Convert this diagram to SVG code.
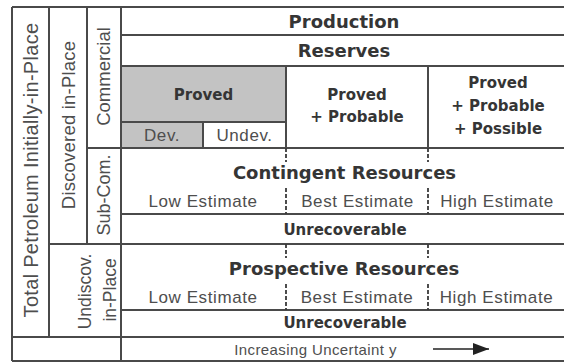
<svg xmlns="http://www.w3.org/2000/svg" width="564" height="363" viewBox="0 0 564 363">
<style>
.ln{stroke:#4a4a4a;stroke-width:2;fill:none}
.dl{stroke:#3a3a3a;stroke-width:1.8;fill:none;stroke-dasharray:4 2}
.g{fill:#c3c3c3}
.b{font-family:"DejaVu Sans",Verdana,sans-serif;font-weight:bold;fill:#353535;text-anchor:middle}
.r{font-family:"Liberation Sans",Arial,sans-serif;fill:#4e4e4e;text-anchor:middle}
.h1{font-size:18px}
.h2{font-size:15px}
.e{font-size:17px;letter-spacing:0.6px}
</style>
<defs>
<marker id="ah" markerWidth="16" markerHeight="12" refX="16" refY="6" orient="auto" markerUnits="userSpaceOnUse">
<path d="M0,0 L16,6 L0,12 Z" fill="#222"/>
</marker>
</defs>
<rect x="0" y="0" width="564" height="363" fill="#ffffff"/>
<g id="proved-fill">
<rect class="g" x="121" y="66" width="165" height="56"/>
<rect class="g" x="121" y="122" width="82" height="26"/>
</g>
<g id="connectors">
<line class="ln" x1="12" y1="7" x2="564" y2="7"/>
<line class="ln" x1="121" y1="35" x2="564" y2="35"/>
<line class="ln" x1="121" y1="66" x2="564" y2="66"/>
<line class="ln" x1="121" y1="122" x2="286" y2="122"/>
<line class="ln" x1="87" y1="148" x2="564" y2="148"/>
<line class="ln" x1="121" y1="214" x2="564" y2="214"/>
<line class="ln" x1="49" y1="244" x2="564" y2="244"/>
<line class="ln" x1="121" y1="310" x2="564" y2="310"/>
<line class="ln" x1="12" y1="337" x2="564" y2="337"/>
<line class="ln" x1="12" y1="361" x2="564" y2="361"/>
<line class="ln" x1="12" y1="7" x2="12" y2="361"/>
<line class="ln" x1="49" y1="7" x2="49" y2="337"/>
<line class="ln" x1="87" y1="7" x2="87" y2="244"/>
<line class="ln" x1="121" y1="7" x2="121" y2="361"/>
<line class="ln" x1="203" y1="122" x2="203" y2="148"/>
<line class="ln" x1="286" y1="66" x2="286" y2="148"/>
<line class="ln" x1="428" y1="66" x2="428" y2="148"/>
<line class="dl" x1="286" y1="148" x2="286" y2="162"/>
<line class="dl" x1="428" y1="148" x2="428" y2="162"/>
<line class="dl" x1="286" y1="188" x2="286" y2="214"/>
<line class="dl" x1="428" y1="188" x2="428" y2="214"/>
<line class="dl" x1="286" y1="244" x2="286" y2="258"/>
<line class="dl" x1="428" y1="244" x2="428" y2="258"/>
<line class="dl" x1="286" y1="284" x2="286" y2="310"/>
<line class="dl" x1="428" y1="284" x2="428" y2="310"/>
<line x1="433" y1="349" x2="489" y2="349" stroke="#222" stroke-width="1.3" marker-end="url(#ah)"/>
</g>
<g id="production"><text class="b h1" x="344" y="28">Production</text></g>
<g id="reserves"><text class="b h1" x="344" y="57">Reserves</text></g>
<g id="proved"><text class="b h2" x="203.5" y="100">Proved</text></g>
<g id="dev"><text class="r e" x="162" y="141">Dev.</text></g>
<g id="undev"><text class="r e" x="244.5" y="141">Undev.</text></g>
<g id="proved-probable">
<text class="b h2" x="357" y="100">Proved</text>
<text class="b h2" x="357" y="122">+ Probable</text>
</g>
<g id="proved-probable-possible">
<text class="b h2" x="498" y="88">Proved</text>
<text class="b h2" x="498" y="111">+ Probable</text>
<text class="b h2" x="498" y="134">+ Possible</text>
</g>
<g id="contingent">
<text class="b h1" x="344.5" y="179">Contingent Resources</text>
<text class="r e" x="203" y="207">Low Estimate</text>
<text class="r e" x="357.5" y="207">Best Estimate</text>
<text class="r e" x="497" y="207">High Estimate</text>
</g>
<g id="unrecoverable-1"><text class="b h2" x="345" y="235">Unrecoverable</text></g>
<g id="prospective">
<text class="b h1" x="344" y="275">Prospective Resources</text>
<text class="r e" x="203" y="303">Low Estimate</text>
<text class="r e" x="357" y="303">Best Estimate</text>
<text class="r e" x="496.5" y="303">High Estimate</text>
</g>
<g id="unrecoverable-2"><text class="b h2" x="345" y="328">Unrecoverable</text></g>
<g id="total"><text class="r" font-size="20" letter-spacing="0.3" transform="translate(37.5,170) rotate(-90)">Total Petroleum Initially-in-Place</text></g>
<g id="discovered"><text class="r" font-size="18.5" letter-spacing="0.2" transform="translate(75,125) rotate(-90)">Discovered in-Place</text></g>
<g id="commercial"><text class="r" font-size="18.5" transform="translate(110,76.5) rotate(-90)">Commercial</text></g>
<g id="subcom"><text class="r" font-size="18" transform="translate(110,195) rotate(-90)">Sub-Com.</text></g>
<g id="undiscovered">
<text class="r" font-size="17.5" transform="translate(91,291.5) rotate(-90)">Undiscov.</text>
<text class="r" font-size="17.5" transform="translate(116,290) rotate(-90)">in-Place</text>
</g>
<g id="uncertainty"><text class="r" font-size="15" letter-spacing="0.4" x="315.5" y="355">Increasing Uncertaint y</text></g>
</svg>
